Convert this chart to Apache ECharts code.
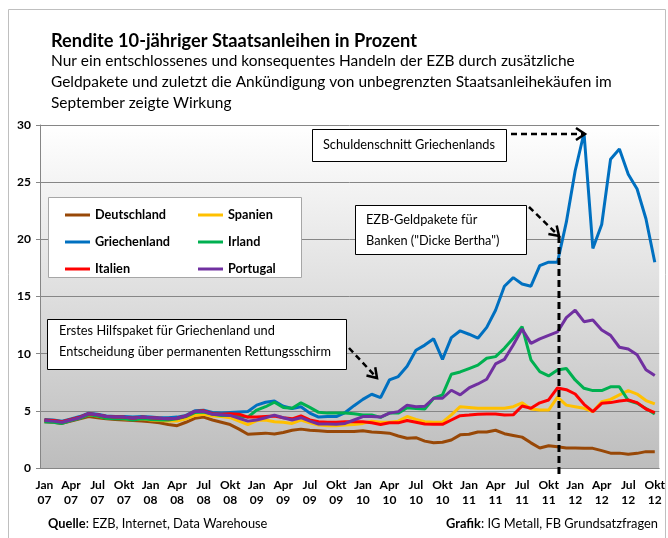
<!DOCTYPE html>
<html><head><meta charset="utf-8">
<script src="https://cdn.jsdelivr.net/npm/echarts@6/dist/echarts.min.js"></script>
<style>html,body{margin:0;padding:0;background:#fff}#c{width:668px;height:538px}</style>
</head><body><div id="c"></div>
<script>
// ---- data ----
const monthNames = ['Jan','Feb','Mär','Apr','Mai','Jun','Jul','Aug','Sep','Okt','Nov','Dez'];
const yearLabels = ['07','08','09','10','11','12'];
const lastMonthCount = 10; // 2012 ends with Okt
const categories = [];
yearLabels.forEach(function (y, yi) {
  const n = yi === yearLabels.length - 1 ? lastMonthCount : 12;
  for (let m = 0; m < n; m++) categories.push(monthNames[m] + ' ' + y);
});

const deutschland = [
  4.05, 4.0, 3.9, 4.1, 4.3, 4.5, 4.4, 4.3, 4.25, 4.2, 4.15, 4.1,
  4.05, 3.95, 3.8, 3.7, 4.0, 4.35, 4.45, 4.2, 4.0, 3.8, 3.4, 2.95,
  3.0, 3.05, 2.98, 3.1, 3.3, 3.4, 3.3, 3.25, 3.2, 3.2, 3.2, 3.2,
  3.25, 3.15, 3.1, 3.05, 2.8, 2.6, 2.65, 2.35, 2.2, 2.25, 2.45, 2.9,
  2.95, 3.15, 3.15, 3.3, 3.0, 2.85, 2.7, 2.2, 1.75, 1.95, 1.85, 1.75,
  1.75, 1.72, 1.72, 1.52, 1.3, 1.3, 1.2, 1.28, 1.43, 1.43
];
const spanien = [
  4.1, 4.05, 3.95, 4.2, 4.4, 4.65, 4.55, 4.4, 4.35, 4.3, 4.25, 4.3,
  4.2, 4.15, 4.1, 4.1, 4.3, 4.6, 4.7, 4.55, 4.5, 4.4, 4.1, 3.8,
  4.15, 4.2, 4.05, 4.0, 3.9, 4.2, 3.95, 3.75, 3.7, 3.7, 3.75, 3.8,
  3.9, 4.1, 4.0, 4.0, 4.1, 4.5, 4.25, 4.05, 4.0, 4.0, 4.64, 5.36,
  5.3, 5.22, 5.22, 5.22, 5.22, 5.36, 5.7, 5.16, 5.07, 5.07, 6.2, 5.5,
  5.36, 5.22, 4.93, 5.8, 6.0, 6.4, 6.77, 6.47, 5.9, 5.6
];
const griechenland = [
  4.25, 4.2, 4.1, 4.3, 4.5, 4.8, 4.7, 4.55, 4.5, 4.5, 4.45, 4.5,
  4.45, 4.4, 4.4, 4.45, 4.6, 5.0, 5.05, 4.85, 4.8, 4.85, 4.9, 4.95,
  5.5, 5.75, 5.86, 5.4, 5.2, 5.36, 4.8, 4.45, 4.5, 4.5, 4.85, 5.45,
  6.0, 6.45, 6.15, 7.7, 8.0, 8.9, 10.3, 10.75, 11.3, 9.5, 11.4, 12.0,
  11.7, 11.35, 12.3, 13.8, 15.9, 16.65, 16.1, 15.9, 17.7, 18.0, 18.0, 21.5,
  26.0, 29.3, 19.2, 21.3, 27.0, 27.9, 25.7, 24.4, 21.8, 18.0
];
const irland = [
  4.05, 4.0, 3.9, 4.15, 4.35, 4.65, 4.55, 4.35, 4.3, 4.3, 4.2, 4.3,
  4.25, 4.2, 4.2, 4.3, 4.5, 4.85, 4.9, 4.7, 4.6, 4.6, 4.55, 4.45,
  5.07, 5.36, 5.75, 5.3, 5.22, 5.7, 5.3, 4.87, 4.8, 4.8, 4.8, 4.75,
  4.64, 4.64, 4.43, 4.8, 4.8, 5.27, 5.2, 5.16, 6.1, 6.4, 8.2, 8.4,
  8.7, 9.0, 9.6, 9.74, 10.47, 11.35, 12.36, 9.45, 8.43, 8.05, 8.57, 8.7,
  7.7, 6.97, 6.77, 6.77, 7.1, 7.1, 5.9, 5.66, 5.2, 4.72
];
const italien = [
  4.2, 4.15, 4.05, 4.25, 4.45, 4.75, 4.65, 4.5, 4.45, 4.45, 4.35, 4.45,
  4.4, 4.35, 4.3, 4.35, 4.55, 4.95, 5.0, 4.75, 4.7, 4.75, 4.7, 4.45,
  4.45, 4.5, 4.55, 4.4, 4.3, 4.55, 4.2, 4.05, 4.0, 4.0, 4.05, 4.05,
  4.05, 3.95, 3.8, 3.95, 3.95, 4.15, 4.0, 3.85, 3.82, 3.82, 4.2, 4.58,
  4.63, 4.7, 4.72, 4.72, 4.63, 4.65, 5.42, 5.22, 5.7, 5.95, 7.0, 6.85,
  6.47, 5.57, 4.93, 5.66, 5.72, 5.86, 5.95, 5.72, 5.16, 4.84
];
const portugal = [
  4.15, 4.1, 4.0, 4.2, 4.4, 4.75, 4.65, 4.5, 4.45, 4.45, 4.35, 4.45,
  4.4, 4.35, 4.3, 4.35, 4.55, 4.95, 4.95, 4.7, 4.65, 4.6, 4.35, 4.1,
  4.2, 4.4, 4.63, 4.4, 4.2, 4.4, 4.1, 3.85, 3.85, 3.82, 3.9, 4.2,
  4.5, 4.5, 4.45, 4.8, 4.93, 5.5, 5.36, 5.4, 6.1, 6.1, 6.8, 6.4,
  7.0, 7.35, 7.76, 9.1, 9.5, 10.76, 12.16, 10.9, 11.3, 11.6, 11.9, 13.15,
  13.8, 12.8, 12.95, 12.07, 11.6, 10.56, 10.4, 9.9, 8.6, 8.1
];
const seriesNames = ['Deutschland', 'Spanien', 'Griechenland', 'Irland', 'Italien', 'Portugal'];
const seriesValues = [deutschland, spanien, griechenland, irland, italien, portugal];
const seriesColors = ['#984807', '#FFC000', '#0070C0', '#00B050', '#FF0000', '#7030A0'];
const yMin = 0, yMax = 30, yStep = 5;
const markerCategory = 'Nov 11';   // dashed line: EZB-Geldpakete
const markerTop = 20.3;

// ---- texts ----
const titleText = 'Rendite 10-jähriger Staatsanleihen in Prozent';
const subLines = [
  'Nur ein entschlossenes und konsequentes Handeln der EZB durch zusätzliche',
  'Geldpakete und zuletzt die Ankündigung von unbegrenzten Staatsanleihekäufen im',
  'September zeigte Wirkung'
];
const sourceText = 'Quelle: EZB, Internet, Data Warehouse';
const creditText = 'Grafik: IG Metall, FB Grundsatzfragen';
const note1 = 'Schuldenschnitt Griechenlands';
const note2 = ['EZB-Geldpakete für', 'Banken ("Dicke Bertha")'];
const note3 = ['Erstes Hilfspaket für Griechenland und', 'Entscheidung über permanenten Rettungsschirm'];

const FONT = 'Lato, "Noto Sans", sans-serif';
// text measuring to fit sizes to the reference's text widths
const mctx = document.createElement('canvas').getContext('2d');
function textW(t, weight, size) { mctx.font = weight + ' ' + size + 'px Lato'; return mctx.measureText(t).width; }
function fit(t, weight, target) { return +(20 * target / textW(t, weight, 20)).toFixed(2); }

const TITLE_SIZE = fit(titleText, 'bold', 366);
const SUB_SIZE = (fit(subLines[0], 'normal', 518) + fit(subLines[1], 'normal', 568)) / 2;
const LEGEND_SIZE = fit('Deutschland', 'bold', 71);
const AXIS_SIZE = 12;
const FOOT_SIZE = (fit(sourceText, 'normal', 219) + fit(creditText, 'normal', 211)) / 2;
const NOTE_SIZE = Math.min(fit(note3[1], 'normal', 272), fit(note2[1], 'normal', 149));

const chart = echarts.init(document.getElementById('c'), null, {renderer: 'canvas'});

const legendText = {fontFamily: FONT, fontSize: LEGEND_SIZE, fontWeight: 'bold', color: '#000', lineHeight: 14};
function legendCfg(names, left) {
  return {
    data: names, orient: 'vertical', left: left, top: 203, itemGap: 13,
    icon: 'rect', itemWidth: 25, itemHeight: 3, textStyle: legendText,
    selectedMode: false, z: 6
  };
}
const footStyle = {fontFamily: FONT, fontSize: FOOT_SIZE, fontWeight: 'normal', color: '#000',
  rich: {b: {fontFamily: FONT, fontSize: FOOT_SIZE, fontWeight: 'bold', color: '#000'}}};

const option = {
  animation: false,
  backgroundColor: '#fff',
  textStyle: {fontFamily: FONT},
  title: [
    {
      text: titleText, subtext: subLines.join('\n'), left: 46, top: 26, itemGap: 0,
      textStyle: {fontFamily: FONT, fontSize: TITLE_SIZE, fontWeight: 'bold', color: '#000', lineHeight: 20},
      subtextStyle: {fontFamily: FONT, fontSize: SUB_SIZE, color: '#000', lineHeight: 21}
    },
    {text: '{b|Quelle}' + sourceText.slice(6), left: 43, top: 512, textStyle: footStyle},
    {text: '{b|Grafik}' + creditText.slice(6), right: 5, top: 512, textStyle: footStyle}
  ],
  legend: [
    legendCfg([seriesNames[0], seriesNames[2], seriesNames[4]], 60),
    legendCfg([seriesNames[1], seriesNames[3], seriesNames[5]], 193)
  ],
  grid: {
    left: 40, right: 6, top: 125, bottom: 70, show: true, borderWidth: 0,
    backgroundColor: new echarts.graphic.LinearGradient(0, 0, 0, 1, [
      {offset: 0, color: '#ffffff'}, {offset: 1, color: '#bdbdbd'}
    ])
  },
  xAxis: {
    type: 'category', data: categories, boundaryGap: true,
    axisLine: {lineStyle: {color: '#868686', width: 1}},
    axisTick: {interval: 2, length: 5, lineStyle: {color: '#868686'}},
    axisLabel: {
      interval: 2, formatter: function (v) { return v.replace(' ', '\n'); },
      fontFamily: FONT, fontWeight: 'bold', fontSize: AXIS_SIZE, color: '#000', lineHeight: 15, margin: 10
    },
    splitLine: {show: false}
  },
  yAxis: {
    type: 'value', min: yMin, max: yMax, interval: yStep,
    axisLine: {show: true, lineStyle: {color: '#868686'}},
    axisTick: {show: true, length: 4, lineStyle: {color: '#868686'}},
    splitLine: {lineStyle: {color: '#868686', width: 1}},
    axisLabel: {fontFamily: FONT, fontWeight: 'bold', fontSize: 12, color: '#000', margin: 9}
  },
  series: seriesNames.map(function (name, i) {
    return {
      name: name, type: 'line', data: seriesValues[i], symbol: 'none', showSymbol: false,
      color: seriesColors[i], lineStyle: {width: 3, color: seriesColors[i]},
      itemStyle: {color: seriesColors[i]}, emphasis: {disabled: true}, z: 2
    };
  })
};
chart.setOption(option);

// ---- annotations ----
function arrow(x1, y1, x2, y2) {
  const dx = x2 - x1, dy = y2 - y1, L = Math.sqrt(dx * dx + dy * dy);
  const ux = dx / L, uy = dy / L, nx = -uy, ny = ux;
  const back = 9, side = 6;
  return [
    {type: 'polyline', z: 20, shape: {points: [[x1, y1], [x2 - ux * 2, y2 - uy * 2]]},
      style: {stroke: '#000', lineWidth: 2.5, lineDash: [6, 4], fill: null}},
    {type: 'polyline', z: 20, shape: {points: [
      [x2 - ux * back + nx * side, y2 - uy * back + ny * side], [x2, y2],
      [x2 - ux * back - nx * side, y2 - uy * back - ny * side]]},
      style: {stroke: '#000', lineWidth: 2.5, fill: null}}
  ];
}
function box(x, y, w, h) {
  return {type: 'rect', z: 20, shape: {x: x, y: y, width: w, height: h},
    style: {fill: '#fff', stroke: '#000', lineWidth: 1}};
}
function label(lines, x, yCenterFirst) {
  return {type: 'text', z: 21, x: x, y: yCenterFirst - 10.5,
    style: {text: [].concat(lines).join('\n'), fontFamily: FONT, fontSize: NOTE_SIZE, fill: '#000',
      lineHeight: 21, verticalAlign: 'top'}};
}
const w1 = textW(note1, 'normal', NOTE_SIZE);
const n1x = 495 - w1;

const pTop = chart.convertToPixel({gridIndex: 0}, [markerCategory, markerTop]);
const pZero = chart.convertToPixel({gridIndex: 0}, [markerCategory, yMin]);

const graphics = [
  {type: 'rect', z: 0, silent: true, shape: {x: 8.5, y: 9.5, width: 657, height: 545},
    style: {fill: null, stroke: '#bfbfbf', lineWidth: 1}},
  {type: 'rect', z: 5, shape: {x: 48.5, y: 197.5, width: 253, height: 80},
    style: {fill: '#fff', stroke: '#a6a6a6', lineWidth: 1}},
  {type: 'line', z: 19, shape: {x1: pTop[0] + 1.5, y1: pTop[1], x2: pZero[0] + 1.5, y2: pZero[1] + 10},
    style: {stroke: '#000', lineWidth: 3, lineDash: [7, 4]}},
  box(Math.round(n1x - 11) + 0.5, 129.5, 506 - Math.round(n1x - 11), 32), label(note1, n1x, 145),
  box(355.5, 205.5, 171, 49), label(note2, 366, 219.5),
  box(47.5, 319.5, 299, 50), label(note3, 59, 331)
].concat(arrow(511, 134, 585, 134), arrow(529, 207, 559, 236), arrow(349, 348, 377, 378));

chart.setOption({graphic: graphics});
</script></body></html>
